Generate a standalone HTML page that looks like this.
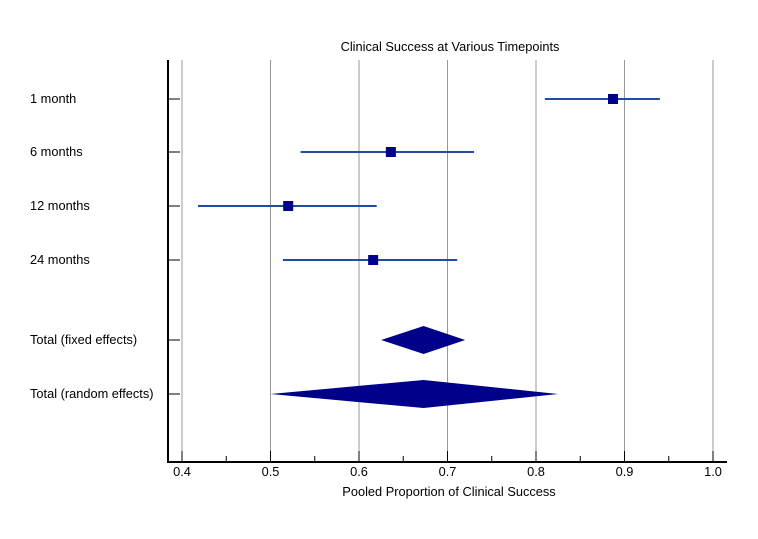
<!DOCTYPE html>
<html><head><meta charset="utf-8"><style>
body{margin:0;background:#fff;}
svg{display:block;font-family:"Liberation Sans",Arial,sans-serif;}
</style></head><body>
<svg id="chart" width="758" height="539" xmlns="http://www.w3.org/2000/svg">
<text x="450" y="51" font-size="12.8" text-anchor="middle">Clinical Success at Various Timepoints</text>
<text x="449" y="496" font-size="12.8" text-anchor="middle">Pooled Proportion of Clinical Success</text>
<g id="grid"></g><g id="axes"></g><g id="marks"></g>
</svg>
<script>
const studyLabels=["1 month","6 months","12 months","24 months"];
const studyEst=[0.887,0.636,0.520,0.616];
const studyLo=[0.810,0.534,0.418,0.514];
const studyHi=[0.940,0.730,0.620,0.711];
const totalLabels=["Total (fixed effects)","Total (random effects)"];
const totalEst=[0.673,0.673];
const totalLo=[0.625,0.500];
const totalHi=[0.720,0.825];
const xTicks=[0.4,0.5,0.6,0.7,0.8,0.9,1.0];
const xMinor=[0.45,0.55,0.65,0.75,0.85,0.95];
const rowY=[99,152,206,260,340,394];
const NS="http://www.w3.org/2000/svg";
const x=v=>182+(v-0.4)*885;
function mk(p,t,a){const e=document.createElementNS(NS,t);for(const k in a)e.setAttribute(k,a[k]);document.getElementById(p).appendChild(e);return e;}
xTicks.forEach(v=>{
 const g=mk('grid','line',{x1:x(v),x2:x(v),y1:60,y2:451,stroke:'#999','stroke-width':1});
 
 
 const t=mk('axes','line',{x1:x(v),x2:x(v),y1:451,y2:462,stroke:'#000','stroke-width':1});
 
 
 const l=mk('axes','text',{x:x(v),y:476,'font-size':12.8,'text-anchor':'middle'});
 l.textContent=v.toFixed(1);
 
 
});
xMinor.forEach(v=>{
 const t=mk('axes','line',{x1:x(v),x2:x(v),y1:456,y2:462,stroke:'#000','stroke-width':1});
 
 
});
let a=mk('axes','line',{x1:168,x2:727,y1:462,y2:462,stroke:'#000','stroke-width':2});


a=mk('axes','line',{x1:168,x2:168,y1:60,y2:463,stroke:'#000','stroke-width':2});


const allLabels=studyLabels.concat(totalLabels);
allLabels.forEach((s,i)=>{
 const t=mk('axes','line',{x1:168,x2:180,y1:rowY[i],y2:rowY[i],stroke:'#000','stroke-width':1});
 
 
 const l=mk('axes','text',{x:30,y:rowY[i]+4,'font-size':12.8});
 l.textContent=s;
 
 
});
studyEst.forEach((v,i)=>{
 const y=rowY[i];
 const c=mk('marks','line',{x1:x(studyLo[i]),x2:x(studyHi[i]),y1:y,y2:y,stroke:'#1f4e9e','stroke-width':2});
 
 
 const r=mk('marks','rect',{x:x(v)-5,y:y-5,width:10,height:10,fill:'#00008b'});
 
 
});
totalEst.forEach((v,i)=>{
 const y=rowY[4+i];
 const p=mk('marks','polygon',{points:`${x(totalLo[i])},${y} ${x(v)},${y-14} ${x(totalHi[i])},${y} ${x(v)},${y+14}`,fill:'#00008b'});
 
 
});
</script>
</body></html>
